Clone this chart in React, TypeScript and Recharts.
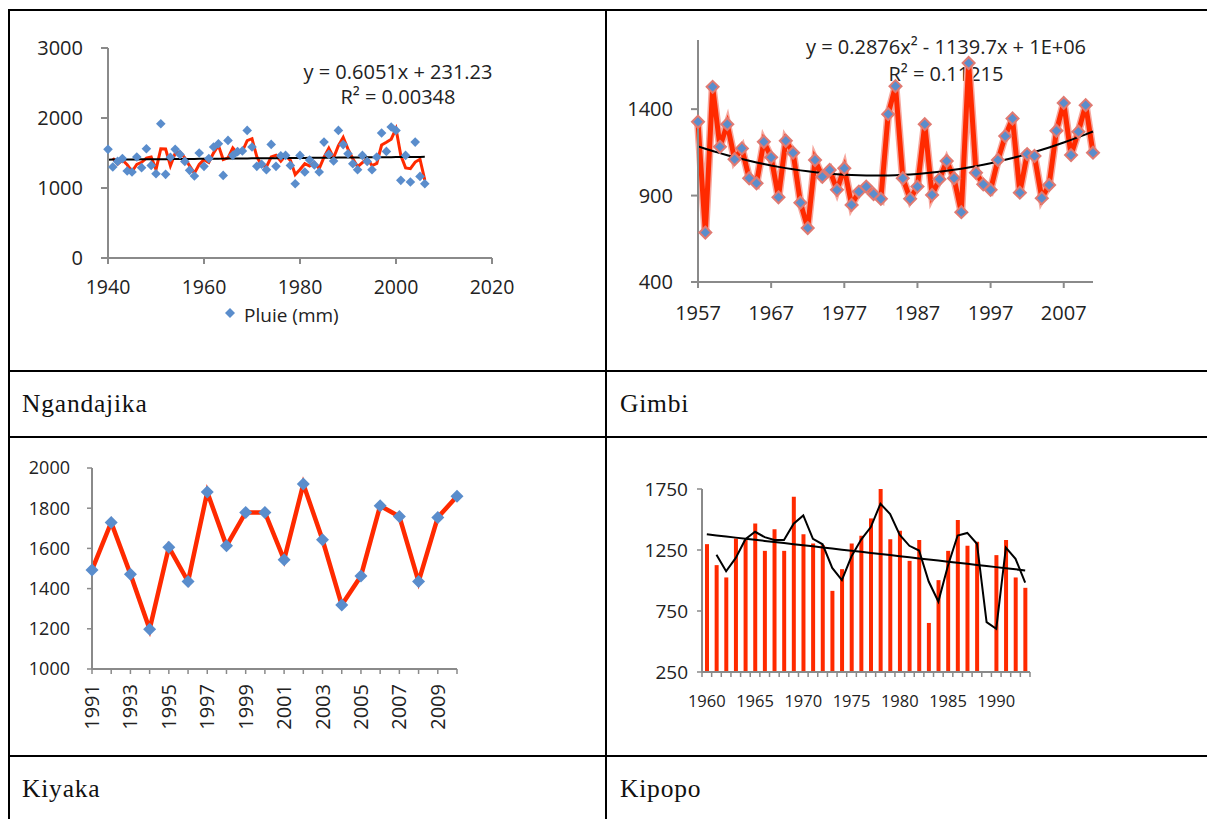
import React from 'react';
import { ComposedChart, Line, Bar, XAxis, YAxis } from 'recharts';

// Ngandajika, 1940-2006 (Pluie, mm)
const ngStart = 1940;
const ngRain = [
  1552, 1300, 1380, 1420, 1243, 1229, 1443, 1291, 1560, 1323,
  1204, 1918, 1195, 1440, 1552, 1480, 1380, 1252, 1171, 1500,
  1309, 1420, 1585, 1633, 1180, 1680, 1466, 1520, 1530, 1823,
  1585, 1309, 1340, 1261, 1623, 1309, 1460, 1466, 1323, 1061,
  1466, 1228, 1400, 1330, 1228, 1656, 1480, 1385, 1823, 1620,
  1490, 1347, 1261, 1466, 1380, 1261, 1442, 1785, 1523, 1871,
  1823, 1109, 1466, 1085, 1656, 1166, 1061,
];
const ngTicksX = [1940, 1960, 1980, 2000, 2020];
const ngTicksY = [0, 1000, 2000, 3000];
const ngSlope = 0.6051;
const ngIntercept = 231.23;

// Gimbi, 1957-2011
const gbStart = 1957;
const gbRain = [
  1327, 686, 1529, 1182, 1313, 1110, 1173, 1000, 971, 1211,
  1121, 890, 1217, 1148, 859, 712, 1106, 1009, 1048, 933,
  1058, 846, 923, 952, 909, 881, 1371, 1533, 1000, 881,
  952, 1313, 904, 994, 1100, 1000, 804, 1667, 1032, 965,
  933, 1106, 1244, 1346, 917, 1140, 1129, 885, 961, 1275,
  1436, 1134, 1269, 1423, 1148,
];
const gbTicksX = [1957, 1967, 1977, 1987, 1997, 2007];
const gbTicksY = [400, 900, 1400];

// Kiyaka, 1991-2010
const kyStart = 1991;
const kyRain = [
  1493, 1729, 1472, 1198, 1606, 1435, 1880, 1613, 1779, 1779,
  1543, 1920, 1643, 1319, 1463, 1812, 1759, 1435, 1754, 1859,
];
const kyTicksY = [1000, 1200, 1400, 1600, 1800, 2000];

// Kipopo, 1960-1993 (1989 = 0)
const kpStart = 1960;
const kpRain = [
  1298, 1126, 1025, 1345, 1331, 1468, 1243, 1421, 1243, 1687,
  1380, 1304, 1290, 915, 1093, 1304, 1367, 1509, 1750, 1339,
  1408, 1161, 1331, 652, 1003, 1243, 1495, 1285, 1318, 0,
  1208, 1331, 1025, 940,
];
const kpTicksY = [250, 750, 1250, 1750];

const AXIS = '#8a8a8a';
const RED = '#ff2a00';
const BLUE = '#5a8dcc';
const TXT = '#222';
const SANS = "'Open Sans', sans-serif";
const SERIF = "'Liberation Serif', serif";

const years = (start: number, n: number) => Array.from({ length: n }, (_, i) => start + i);

// excel style 2-period moving average
const movingAvg = (ys: number[]) => ys.map((v, i) => (i === 0 ? null : (v + ys[i - 1]) / 2));

const linearFit = (xs: number[], ys: number[]) => {
  const n = xs.length;
  const mx = xs.reduce((a, b) => a + b, 0) / n;
  const my = ys.reduce((a, b) => a + b, 0) / n;
  let sxy = 0, sxx = 0;
  xs.forEach((x, i) => { sxy += (x - mx) * (ys[i] - my); sxx += (x - mx) ** 2; });
  const b = sxy / sxx;
  return (x: number) => my + b * (x - mx);
};

const det3 = (m: number[][]) =>
  m[0][0] * (m[1][1] * m[2][2] - m[1][2] * m[2][1]) -
  m[0][1] * (m[1][0] * m[2][2] - m[1][2] * m[2][0]) +
  m[0][2] * (m[1][0] * m[2][1] - m[1][1] * m[2][0]);

const quadFit = (xs: number[], ys: number[]) => {
  const n = xs.length;
  const mx = xs.reduce((a, b) => a + b, 0) / n;
  const s = [0, 0, 0, 0, 0];
  const t = [0, 0, 0];
  xs.forEach((x, i) => {
    const u = x - mx;
    for (let k = 0; k < 5; k++) s[k] += u ** k;
    for (let k = 0; k < 3; k++) t[k] += ys[i] * u ** k;
  });
  const M = [[s[0], s[1], s[2]], [s[1], s[2], s[3]], [s[2], s[3], s[4]]];
  const D = det3(M);
  const c = [0, 1, 2].map((col) => det3(M.map((row, r) => row.map((v, j) => (j === col ? t[r] : v)))) / D);
  return (x: number) => c[0] + c[1] * (x - mx) + c[2] * (x - mx) ** 2;
};

const ngYears = years(ngStart, ngRain.length);
const ngMa = movingAvg(ngRain);
const ngData = ngYears.map((year, i) => ({
  year, rain: ngRain[i], ma: ngMa[i], trend: ngSlope * year + ngIntercept,
}));

const gbYears = years(gbStart, gbRain.length);
const gbTrend = quadFit(gbYears, gbRain);
const gbData = gbYears.map((year, i) => ({ year, rain: gbRain[i], trend: gbTrend(year) }));

const kyYears = years(kyStart, kyRain.length);
const kyData = kyYears.map((year, i) => ({ year, rain: kyRain[i] }));

const kpYears = years(kpStart, kpRain.length);
const kpMa = movingAvg(kpRain);
const kpTrend = linearFit(kpYears, kpRain);
const kpData = kpYears.map((year, i) => ({
  year, rain: kpRain[i] === 0 ? null : kpRain[i], ma: kpMa[i], trend: kpTrend(year),
}));

const diamond = (r: number, fill: string, stroke = 'none', sw = 0) => (p: any) => {
  const { cx, cy, index } = p;
  if (cx == null || cy == null) return <g key={`d${index}`} />;
  return (
    <path
      key={`d${index}`}
      d={`M${cx},${cy - r}L${cx + r},${cy}L${cx},${cy + r}L${cx - r},${cy}Z`}
      fill={fill}
      stroke={stroke}
      strokeWidth={sw}
    />
  );
};

const KyTick = (p: any) => {
  const { x, y, payload } = p;
  const yr = payload.value;
  return (
    <g>
      <line x1={x} x2={x} y1={y} y2={y + 5} stroke={AXIS} strokeWidth={1.5} />
      {yr % 2 === 1 && (
        <text transform={`translate(${x},${y + 15}) rotate(-90)`} textAnchor="end" dy="0.35em"
          fill={TXT} fontSize={20} fontFamily={SANS}>{yr}</text>
      )}
    </g>
  );
};

const KP_W = 420, KP_YW = 72, KP_R = 20;
const kpBand = (KP_W - KP_YW - KP_R) / kpRain.length;

const KpTick = (p: any) => {
  const { x, y, payload, index } = p;
  const yr = payload.value;
  const h = kpBand / 2;
  return (
    <g>
      <line x1={x - h} x2={x - h} y1={y} y2={y + 5} stroke={AXIS} strokeWidth={1.5} />
      {index === kpRain.length - 1 && <line x1={x + h} x2={x + h} y1={y} y2={y + 5} stroke={AXIS} strokeWidth={1.5} />}
      {yr % 5 === 0 && (
        <text x={x} y={y + 35} textAnchor="middle" fill={TXT} fontSize={16.5} fontFamily={SANS}>{yr}</text>
      )}
    </g>
  );
};

const hLine = (top: number) => (
  <div style={{ position: 'absolute', left: 8, top, width: 1210, height: 2, background: '#000' }} />
);
const vLine = (left: number) => (
  <div style={{ position: 'absolute', left, top: 9, width: 2, height: 820, background: '#000' }} />
);

const cellLabel = (text: string, left: number, top: number) => (
  <div style={{ position: 'absolute', left, top, fontFamily: SERIF, fontSize: 25.5, letterSpacing: 0.8, lineHeight: 1, color: '#111' }}>
    {text}
  </div>
);

export default function App() {
  const tick20 = { fill: TXT, fontSize: 20, fontFamily: SANS };
  return (
    <div style={{ position: 'fixed', left: 0, top: 0, width: 1207, height: 819, background: '#fff', overflow: 'hidden' }}>
      {hLine(9)}
      {hLine(370)}
      {hLine(436)}
      {hLine(755)}
      {vLine(8)}
      {vLine(605)}

      {cellLabel('Ngandajika', 22, 391)}
      {cellLabel('Gimbi', 620, 391)}
      {cellLabel('Kiyaka', 22, 776)}
      {cellLabel('Kipopo', 620, 776)}

      {/* Ngandajika */}
      <div style={{ position: 'absolute', left: 298, top: 59, width: 200, textAlign: 'center', fontFamily: SANS, fontSize: 20, lineHeight: '25px', color: TXT, whiteSpace: 'nowrap' }}>
        <div>y = 0.6051x + 231.23</div>
        <div>R² = 0.00348</div>
      </div>
      <div style={{ position: 'absolute', left: 20, top: 30 }}>
        <ComposedChart width={500} height={300} data={ngData} margin={{ top: 18, right: 28, bottom: 32, left: 0 }}>
          <XAxis dataKey="year" type="number" domain={[1940, 2020]} ticks={ngTicksX} interval={0}
            axisLine={{ stroke: AXIS, strokeWidth: 2 }} tickLine={{ stroke: AXIS, strokeWidth: 2 }}
            tickSize={6} tickMargin={16} height={40} tick={{ fill: TXT, fontSize: 19.5, fontFamily: SANS }} />
          <YAxis domain={[0, 3000]} ticks={ngTicksY} interval={0} width={88}
            axisLine={{ stroke: AXIS, strokeWidth: 2 }} tickLine={{ stroke: AXIS, strokeWidth: 2 }}
            tickSize={7} tickMargin={18} tick={tick20} />
          <Line dataKey="rain" stroke="none" dot={diamond(4.8, BLUE)} isAnimationActive={false} activeDot={false} />
          <Line dataKey="ma" stroke={RED} strokeWidth={3} dot={false} isAnimationActive={false} activeDot={false} />
          <Line dataKey="trend" stroke="#000" strokeWidth={2} dot={false} isAnimationActive={false} activeDot={false} />
        </ComposedChart>
      </div>
      <div style={{ position: 'absolute', left: 224, top: 306, display: 'flex', alignItems: 'center', fontFamily: SANS, fontSize: 19, color: TXT, lineHeight: '19px' }}>
        <svg width={12} height={12} style={{ marginRight: 8, marginTop: -6 }}>
          <path d="M6,1L11,6L6,11L1,6Z" fill={BLUE} />
        </svg>
        <span>Pluie (mm)</span>
      </div>

      {/* Gimbi */}
      <div style={{ position: 'absolute', left: 746, top: 34, width: 400, textAlign: 'center', fontFamily: SANS, fontSize: 20, lineHeight: '26.5px', color: TXT, whiteSpace: 'nowrap' }}>
        <div>y = 0.2876x² - 1139.7x + 1E+06</div>
        <div>R² = 0.11215</div>
      </div>
      <div style={{ position: 'absolute', left: 610, top: 20 }}>
        <ComposedChart width={500} height={310} data={gbData} margin={{ top: 20, right: 17, bottom: 8, left: 0 }}>
          <XAxis dataKey="year" type="number" domain={[1957, 2011]} ticks={gbTicksX} interval={0}
            axisLine={{ stroke: AXIS, strokeWidth: 2 }} tickLine={{ stroke: AXIS, strokeWidth: 2 }}
            tickSize={6} tickMargin={18} height={40} tick={tick20} />
          <YAxis domain={[400, 1800]} ticks={gbTicksY} interval={0} width={88}
            axisLine={{ stroke: AXIS, strokeWidth: 2 }} tickLine={{ stroke: AXIS, strokeWidth: 2 }}
            tickSize={7} tickMargin={18} tick={tick20} />
          <Line dataKey="rain" stroke="#f6a9a0" strokeWidth={8} dot={false} isAnimationActive={false} activeDot={false} />
          <Line dataKey="rain" stroke={RED} strokeWidth={5} dot={false} isAnimationActive={false} activeDot={false} />
          <Line dataKey="trend" stroke="#000" strokeWidth={2} dot={false} isAnimationActive={false} activeDot={false} />
          <Line dataKey="rain" stroke="none" dot={diamond(6, BLUE, '#e07a72', 2)} isAnimationActive={false} activeDot={false} />
        </ComposedChart>
      </div>

      {/* Kiyaka */}
      <div style={{ position: 'absolute', left: 20, top: 455 }}>
        <ComposedChart width={460} height={290} data={kyData} margin={{ top: 13, right: 23, bottom: 6, left: 0 }}>
          <XAxis dataKey="year" type="number" domain={[1991, 2010]} ticks={kyYears} interval={0}
            axisLine={{ stroke: AXIS, strokeWidth: 2 }} tickLine={false}
            tickSize={0} tickMargin={0} height={70} tick={<KyTick />} />
          <YAxis domain={[1000, 2000]} ticks={kyTicksY} interval={0} width={72}
            axisLine={{ stroke: AXIS, strokeWidth: 2 }} tickLine={{ stroke: AXIS, strokeWidth: 1.5 }}
            tickSize={5} tickMargin={17} tick={{ fill: TXT, fontSize: 18, fontFamily: SANS }} />
          <Line dataKey="rain" stroke={RED} strokeWidth={4.5} dot={diamond(6.5, BLUE)} isAnimationActive={false} activeDot={false} />
        </ComposedChart>
      </div>

      {/* Kipopo */}
      <div style={{ position: 'absolute', left: 630, top: 475 }}>
        <ComposedChart width={KP_W} height={250} data={kpData} margin={{ top: 14, right: KP_R, bottom: 13, left: 0 }}>
          <XAxis dataKey="year" interval={0}
            axisLine={{ stroke: AXIS, strokeWidth: 2 }} tickLine={false}
            tickSize={0} tickMargin={0} height={40} tick={<KpTick />} />
          <YAxis domain={[250, 1750]} ticks={kpTicksY} interval={0} width={KP_YW} allowDataOverflow
            axisLine={{ stroke: AXIS, strokeWidth: 2 }} tickLine={{ stroke: AXIS, strokeWidth: 1.5 }}
            tickSize={5} tickMargin={9} tick={{ fill: TXT, fontSize: 19, fontFamily: SANS }} />
          <Bar dataKey="rain" fill={RED} barSize={4} isAnimationActive={false} />
          <Line dataKey="ma" stroke="#000" strokeWidth={2} dot={false} isAnimationActive={false} activeDot={false} />
          <Line dataKey="trend" stroke="#000" strokeWidth={2} dot={false} isAnimationActive={false} activeDot={false} />
        </ComposedChart>
      </div>
    </div>
  );
}
